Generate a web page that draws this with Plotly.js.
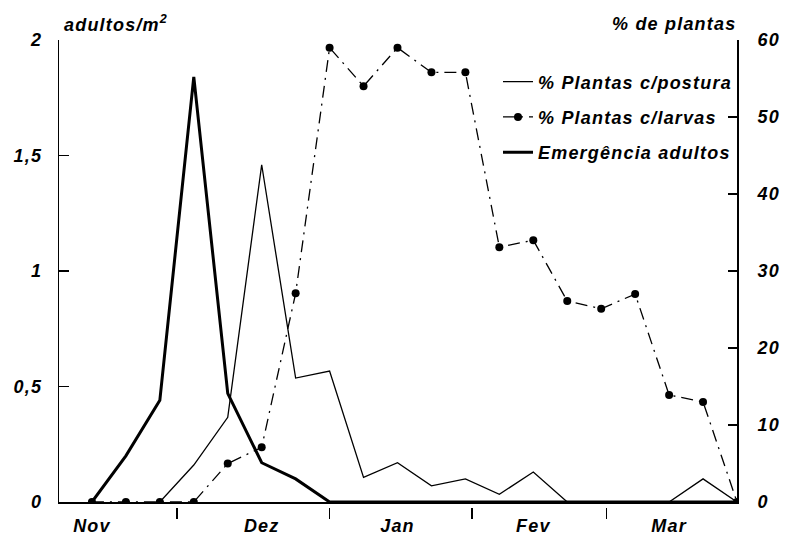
<!DOCTYPE html>
<html>
<head>
<meta charset="utf-8">
<script src="https://cdn.plot.ly/plotly-3.0.1.min.js"></script>
<style>
html, body { margin: 0; padding: 0; background: #fff; }
#chart { width: 786px; height: 535px; }
svg text { letter-spacing: 1.2px; }
</style>
</head>
<body>
<div id="chart"></div>
<script>
// Sample index (roughly weekly samplings, Nov to Mar)
const sampleIdx = [0,1,2,3,4,5,6,7,8,9,10,11,12,13,14,15,16,17,18,19];

// Emergência adultos (adultos/m2, left axis)
const emergencia = [0, 0.2, 0.44, 1.84, 0.47, 0.17, 0.10, 0, 0, 0, 0, 0, 0, 0, 0, 0, 0, 0, 0, 0];

// % Plantas c/postura (right axis)
const postura = [null, null, 0, 4.8, 11.0, 43.8, 16.1, 17.0, 3.2, 5.1, 2.1, 3.0, 1.0, 3.9, 0, 0, 0, 0, 3.0, 0];

// % Plantas c/larvas (right axis)
const larvas = [0, 0, 0, 0, 5.0, 7.1, 27.1, 59.0, 54.0, 59.0, 55.8, 55.8, 33.1, 34.0, 26.1, 25.1, 27.0, 13.9, 13.0, 0];

// Month labels and month boundary ticks
const monthLabelPos = [0, 5, 9, 13, 17];
const monthNames = ["Nov", "Dez", "Jan", "Fev", "Mar"];
const monthTickPos = [2.5, 7, 11.2, 15.15];

// Axis tick labels
const leftTickVals = [0, 0.5, 1, 1.5, 2];
const leftTickText = ["0", "0,5", "1", "1,5", "2"];
const rightTickVals = [0, 10, 20, 30, 40, 50, 60];
const rightTickText = ["0", "10", "20", "30", "40", "50", "60"];

const FAM = "Liberation Sans, Arial, Helvetica, sans-serif";
const baseFont = {family: FAM, size: 18, color: "#000", weight: "bold", style: "italic"};

const traces = [
  {
    x: sampleIdx, y: postura, yaxis: "y2", type: "scatter", mode: "lines",
    name: "% Plantas c/postura", legendgroup: "a",
    line: {color: "#000", width: 1.3}
  },
  {
    x: sampleIdx, y: larvas, yaxis: "y2", type: "scatter", mode: "lines+markers",
    name: "% Plantas c/larvas", legendgroup: "b",
    line: {color: "#000", width: 1.3, dash: "12px,6px,2px,6px"},
    marker: {color: "#000", size: 8}
  },
  {
    x: sampleIdx, y: emergencia, yaxis: "y", type: "scatter", mode: "lines",
    name: "Emergência adultos", legendgroup: "c",
    line: {color: "#000", width: 3}
  },
  {
    // invisible carrier so the month-boundary tick axis is drawn
    x: monthTickPos, y: monthTickPos.map(() => null), xaxis: "x2", yaxis: "y",
    type: "scatter", mode: "none", showlegend: false, hoverinfo: "skip"
  }
];

const layout = {
  width: 786, height: 535,
  margin: {l: 59, r: 49, t: 40, b: 28},
  paper_bgcolor: "#fff", plot_bgcolor: "#fff",
  separators: ",.",
  font: baseFont,
  showlegend: true,
  legend: {
    x: 1, xanchor: "right", y: 0.95, yanchor: "top",
    bgcolor: "rgba(0,0,0,0)", font: baseFont,
    tracegroupgap: 9, itemwidth: 30, traceorder: "grouped"
  },
  xaxis: {
    range: [-0.97, 19], anchor: "y",
    showgrid: false, zeroline: false,
    showline: true, linecolor: "#000", linewidth: 2,
    tickmode: "array", tickvals: monthLabelPos, ticktext: monthNames,
    ticks: "", ticklabelstandoff: 6,
    tickfont: baseFont
  },
  xaxis2: {
    range: [-0.97, 19], overlaying: "x", anchor: "free", position: 0,
    showgrid: false, zeroline: false, showline: false,
    tickmode: "array", tickvals: monthTickPos, ticks: "outside",
    ticklen: 11, tickwidth: 1.5, tickcolor: "#000", showticklabels: false
  },
  yaxis: {
    range: [0, 2], domain: [0.0107, 1],
    showgrid: false, zeroline: false,
    showline: true, linecolor: "#000", linewidth: 1.2,
    tickmode: "array", tickvals: leftTickVals, ticktext: leftTickText,
    ticks: "inside", ticklen: 10, tickwidth: 1.5, tickcolor: "#000",
    ticklabelstandoff: 12, tickfont: baseFont
  },
  yaxis2: {
    range: [0, 60], overlaying: "y", side: "right", anchor: "x",
    showgrid: false, zeroline: false,
    showline: true, linecolor: "#000", linewidth: 2,
    tickmode: "array", tickvals: rightTickVals, ticktext: rightTickText,
    ticks: "inside", ticklen: 9, tickwidth: 1.5, tickcolor: "#000",
    ticklabelstandoff: 15, tickfont: baseFont
  },
  annotations: [
    {text: "adultos/m<sup>2</sup>", xref: "paper", yref: "paper", x: 0.004, y: 1.036,
     xanchor: "left", yanchor: "middle", showarrow: false, font: baseFont},
    {text: "% de plantas", xref: "paper", yref: "paper", x: 1.002, y: 1.034,
     xanchor: "right", yanchor: "middle", showarrow: false, font: baseFont}
  ]
};

Plotly.newPlot("chart", traces, layout, {displayModeBar: false, staticPlot: true});
</script>
</body>
</html>
